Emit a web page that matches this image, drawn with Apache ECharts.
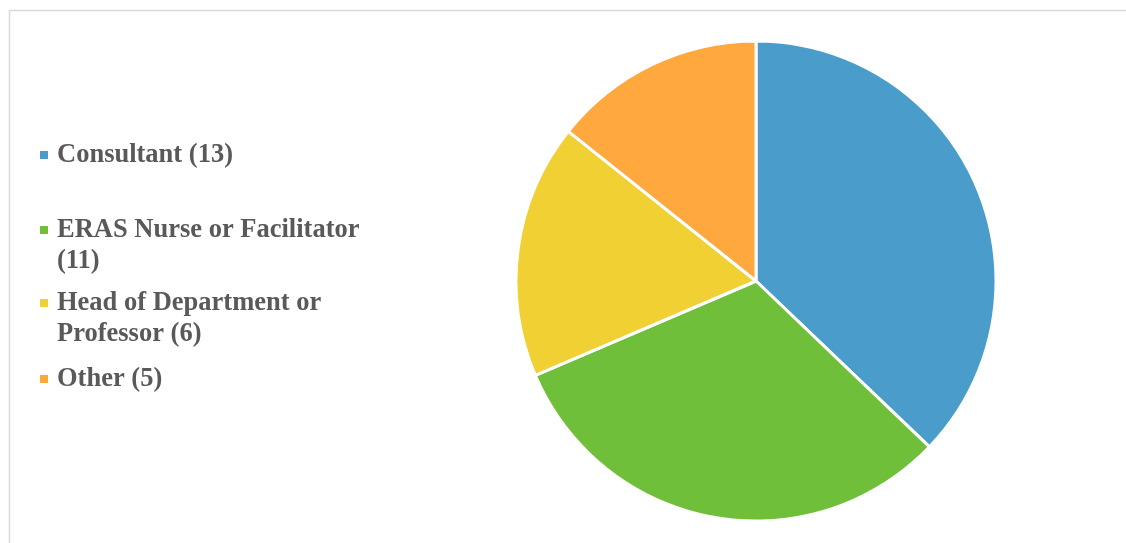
<!DOCTYPE html>
<html>
<head>
<meta charset="utf-8">
<script src="https://cdn.jsdelivr.net/npm/echarts@6/dist/echarts.min.js"></script>
<style>html,body{margin:0;padding:0;background:#fff;}#c{width:1126px;height:543px;}</style>
</head>
<body>
<div id="c"></div>
<script>
const categories = ['Consultant', 'ERAS Nurse or Facilitator', 'Head of Department or Professor', 'Other'];
const values = [13, 11, 6, 5];
const colors = ['#4A9CCB', '#70BF3A', '#F0D032', '#FFA83D'];
const legendLines = [
  ['Consultant (13)'],
  ['ERAS Nurse or Facilitator', '(11)'],
  ['Head of Department or', 'Professor (6)'],
  ['Other (5)']
];

const names = categories.map((c, i) => c + ' (' + values[i] + ')');
const legendCenters = [155, 230, 303, 379];

const chart = echarts.init(document.getElementById('c'), null, {renderer: 'canvas'});
const legends = names.map((n, i) => {
  const lines = legendLines[i];
  const extra = lines.length - 1;
  return {
    data: [n],
    left: 40,
    top: legendCenters[i] - 15.5 - extra * 31 - 2,
    padding: 0,
    orient: 'vertical',
    icon: 'rect',
    itemWidth: 8,
    itemHeight: 8,
    selectedMode: false,
    itemStyle: {borderWidth: 0},
    formatter: () => '\n'.repeat(extra) + lines.join('\n'),
    textStyle: {
      fontFamily: '"Liberation Serif", "Times New Roman", serif',
      fontWeight: 'bold',
      fontSize: 26.5,
      lineHeight: 31,
      color: '#595959',
      padding: [4, 0, 0, 4]
    }
  };
});

chart.setOption({
  animation: false,
  backgroundColor: '#fff',
  color: colors,
  graphic: [{
    type: 'rect',
    shape: {x: 9.5, y: 10.5, width: 1300, height: 700},
    style: {fill: 'none', stroke: '#d9d9d9', lineWidth: 1.5},
    silent: true
  }],
  legend: legends,
  series: [{
    type: 'pie',
    center: [756, 281],
    radius: 240,
    startAngle: 90,
    clockwise: true,
    label: {show: false},
    labelLine: {show: false},
    itemStyle: {borderColor: '#fff', borderWidth: 3},
    emphasis: {disabled: true},
    data: names.map((n, i) => ({name: n, value: values[i]}))
  }]
});
</script>
</body>
</html>
